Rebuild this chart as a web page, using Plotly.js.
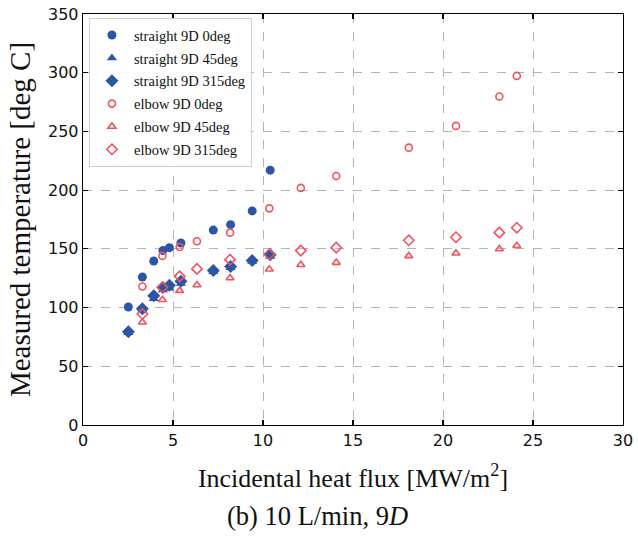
<!DOCTYPE html>
<html>
<head>
<meta charset="utf-8">
<script src="https://cdn.plot.ly/plotly-3.0.1.min.js"></script>
<style>html,body{margin:0;padding:0;background:#fff;}#chart{width:638px;height:541px;}</style>
</head>
<body>
<div id="chart"></div>
<script>
// Straight pipe, 9D
const straightX   = [2.52, 3.3, 3.93, 4.44, 4.8, 5.44, 7.24, 8.2, 9.4, 10.4];
const straight0   = [100.5, 126, 139.7, 148.5, 151, 155, 166, 170.6, 182.3, 217];
const straight45  = [78.5, 98, 107.5, 115, 116.5, 120.5, 130.5, 134, 139.2, 143.5];
const straight315 = [79.5, 99, 110, 117, 119, 122.5, 131.5, 135, 140, 145];

// Elbow, 9D
const elbowX   = [3.3, 4.41, 5.37, 6.33, 8.17, 10.35, 12.1, 14.07, 18.1, 20.72, 23.13, 24.1];
const elbow0   = [118, 144, 151.6, 156.5, 163.8, 184.5, 201.9, 212, 236.2, 254.7, 279.7, 297.3];
const elbow45  = [87.5, 106.7, 114.4, 119.2, 125.2, 132.6, 136.5, 138.3, 144, 146.2, 149.9, 152.7];
const elbow315 = [94.5, 117.3, 126.6, 132.9, 140.8, 145.4, 148.5, 151, 157.3, 159.9, 163.8, 168];

const seriesNames = ["straight 9D 0deg", "straight 9D 45deg", "straight 9D 315deg",
                     "elbow 9D 0deg", "elbow 9D 45deg", "elbow 9D 315deg"];

const blue = '#2c55a8';
const red = '#f2535c';

function trace(x, y, name, symbol, filled, size, grp) {
  return {
    x: x, y: y, name: name, type: 'scatter', mode: 'markers', legendgroup: grp,
    marker: filled
      ? {symbol: symbol, color: blue, size: size, line: {width: 0}}
      : {symbol: symbol + '-open', color: red, size: size, line: {width: 1.6, color: red}}
  };
}

const data = [
  trace(straightX, straight0, seriesNames[0], 'circle', true, 9, 'a'),
  trace(straightX, straight45, seriesNames[1], 'triangle-up', true, 9, 'b'),
  trace(straightX, straight315, seriesNames[2], 'diamond', true, 10, 'c'),
  trace(elbowX, elbow0, seriesNames[3], 'circle', false, 7, 'd'),
  trace(elbowX, elbow45, seriesNames[4], 'triangle-up', false, 7, 'e'),
  trace(elbowX, elbow315, seriesNames[5], 'diamond', false, 8, 'f')
];

const serif = 'Liberation Serif, Times New Roman, serif';
const sans = 'DejaVu Sans, sans-serif';

const axisCommon = {
  showline: true, linecolor: '#000', linewidth: 1.3, mirror: 'ticks',
  ticks: 'inside', ticklen: 5, tickwidth: 1.2, tickcolor: '#000',
  showgrid: true, gridcolor: '#b4b4b4', gridwidth: 1, griddash: 'dash',
  zeroline: false, tickfont: {family: sans, size: 16, color: '#111'}
};

const layout = {
  width: 638, height: 541,
  margin: {l: 83, r: 15, t: 14, b: 116},
  paper_bgcolor: '#fff', plot_bgcolor: '#fff',
  showlegend: true,
  xaxis: Object.assign({}, axisCommon, {
    range: [0, 30], tickvals: [0, 5, 10, 15, 20, 25, 30],
    title: {text: 'Incidental heat flux [MW/m<sup>2</sup>]', font: {family: serif, size: 26, color: '#111'}, standoff: 20}
  }),
  yaxis: Object.assign({}, axisCommon, {
    range: [0, 350], tickvals: [0, 50, 100, 150, 200, 250, 300, 350],
    title: {text: 'Measured temperature [deg C]', font: {family: serif, size: 29, color: '#111'}, standoff: 8}
  }),
  legend: {
    x: 0.011, y: 0.99, xanchor: 'left', yanchor: 'top',
    bgcolor: 'rgba(255,255,255,0.9)', bordercolor: '#cfcfcf', borderwidth: 1,
    font: {family: serif, size: 14.5, color: '#111'},
    traceorder: 'grouped', tracegroupgap: 1, itemwidth: 34
  },
  annotations: [{
    text: '(b) 10 L/min, 9<i>D</i>', xref: 'paper', yref: 'paper',
    x: 0.435, y: -0.222, xanchor: 'center', yanchor: 'middle', showarrow: false,
    font: {family: serif, size: 26.5, color: '#111'}
  }]
};

Plotly.newPlot('chart', data, layout, {displayModeBar: false, staticPlot: true});
</script>
</body>
</html>
